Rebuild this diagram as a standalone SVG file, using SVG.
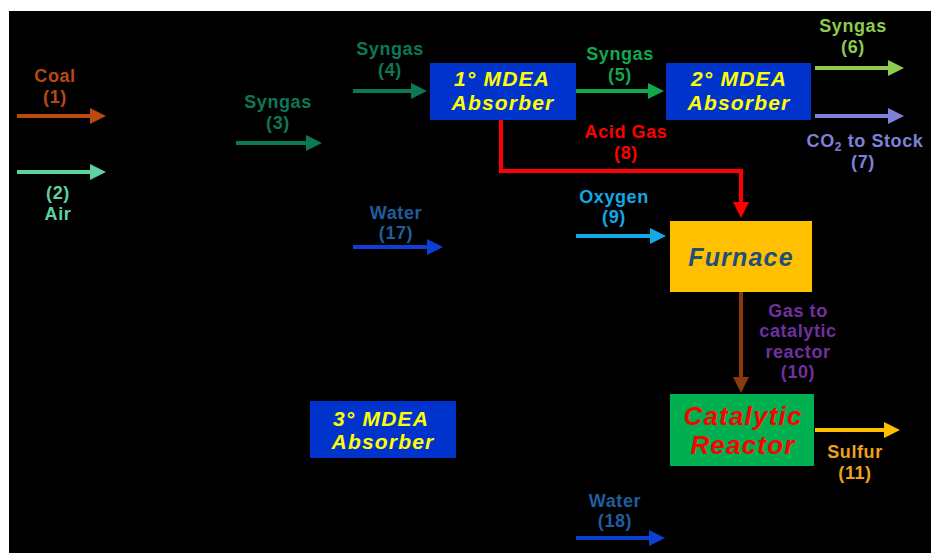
<svg xmlns="http://www.w3.org/2000/svg" width="931" height="553" viewBox="0 0 931 553">
<style>
.lbl{font-family:"Liberation Sans",Arial,sans-serif;font-weight:bold;font-size:18px;letter-spacing:0.6px;text-anchor:middle}
.box{font-family:"Liberation Sans",Arial,sans-serif;font-weight:bold;font-style:italic;letter-spacing:1.2px;text-anchor:middle}
.ln{fill:none;stroke-width:4}
</style>
<defs>
<marker id="mCoal" markerUnits="userSpaceOnUse" markerWidth="17" markerHeight="17" refX="1" refY="8" orient="auto"><path d="M0,0 L16,8 L0,16 z" fill="#BA4A12"/></marker>
<marker id="mAir" markerUnits="userSpaceOnUse" markerWidth="17" markerHeight="17" refX="1" refY="8" orient="auto"><path d="M0,0 L16,8 L0,16 z" fill="#5ED1A0"/></marker>
<marker id="mSyn" markerUnits="userSpaceOnUse" markerWidth="17" markerHeight="17" refX="1" refY="8" orient="auto"><path d="M0,0 L16,8 L0,16 z" fill="#0B7857"/></marker>
<marker id="mSyn5" markerUnits="userSpaceOnUse" markerWidth="17" markerHeight="17" refX="1" refY="8" orient="auto"><path d="M0,0 L16,8 L0,16 z" fill="#13A84E"/></marker>
<marker id="mSyn6" markerUnits="userSpaceOnUse" markerWidth="17" markerHeight="17" refX="1" refY="8" orient="auto"><path d="M0,0 L16,8 L0,16 z" fill="#8DCC4E"/></marker>
<marker id="mCO2" markerUnits="userSpaceOnUse" markerWidth="17" markerHeight="17" refX="1" refY="8" orient="auto"><path d="M0,0 L16,8 L0,16 z" fill="#8080D8"/></marker>
<marker id="mAcid" markerUnits="userSpaceOnUse" markerWidth="17" markerHeight="17" refX="1" refY="8" orient="auto"><path d="M0,0 L16,8 L0,16 z" fill="#FF0000"/></marker>
<marker id="mOxy" markerUnits="userSpaceOnUse" markerWidth="17" markerHeight="17" refX="1" refY="8" orient="auto"><path d="M0,0 L16,8 L0,16 z" fill="#13A8E8"/></marker>
<marker id="mGas" markerUnits="userSpaceOnUse" markerWidth="17" markerHeight="17" refX="1" refY="8" orient="auto"><path d="M0,0 L16,8 L0,16 z" fill="#8B3A0E"/></marker>
<marker id="mSul" markerUnits="userSpaceOnUse" markerWidth="17" markerHeight="17" refX="1" refY="8" orient="auto"><path d="M0,0 L16,8 L0,16 z" fill="#FFC000"/></marker>
<marker id="mWat" markerUnits="userSpaceOnUse" markerWidth="17" markerHeight="17" refX="1" refY="8" orient="auto"><path d="M0,0 L16,8 L0,16 z" fill="#0D3FD4"/></marker>
</defs>
<rect x="9" y="11" width="922" height="542" fill="#000"/>

<g id="connectors">
<path class="ln" d="M17,116 H91" stroke="#BA4A12" marker-end="url(#mCoal)"/>
<path class="ln" d="M17,172 H91" stroke="#5ED1A0" marker-end="url(#mAir)"/>
<path class="ln" d="M236,143 H307" stroke="#0B7857" marker-end="url(#mSyn)"/>
<path class="ln" d="M353,91 H412" stroke="#0B7857" marker-end="url(#mSyn)"/>
<path class="ln" d="M576,91 H649" stroke="#13A84E" marker-end="url(#mSyn5)"/>
<path class="ln" d="M815,68 H889" stroke="#8DCC4E" marker-end="url(#mSyn6)"/>
<path class="ln" d="M815,116 H889" stroke="#8080D8" marker-end="url(#mCO2)"/>
<path class="ln" d="M501,120 V171 H741 V203" stroke="#FF0000" stroke-width="5" marker-end="url(#mAcid)"/>
<path class="ln" d="M576,236 H651" stroke="#13A8E8" marker-end="url(#mOxy)"/>
<path class="ln" d="M741,292 V378" stroke="#8B3A0E" stroke-width="5" marker-end="url(#mGas)"/>
<path class="ln" d="M815,430 H885" stroke="#FFC000" marker-end="url(#mSul)"/>
<path class="ln" d="M353,247 H428" stroke="#0D3FD4" marker-end="url(#mWat)"/>
<path class="ln" d="M576,538 H650" stroke="#0D3FD4" marker-end="url(#mWat)"/>
</g>

<g id="labels">
<text class="lbl" x="55" y="82" fill="#BA4A12">Coal</text>
<text class="lbl" x="55" y="103" fill="#BA4A12">(1)</text>
<text class="lbl" x="58" y="199" fill="#5ED1A0">(2)</text>
<text class="lbl" x="58" y="220" fill="#5ED1A0">Air</text>
<text class="lbl" x="278" y="108" fill="#0B7857">Syngas</text>
<text class="lbl" x="278" y="129" fill="#0B7857">(3)</text>
<text class="lbl" x="390" y="55" fill="#0B7857">Syngas</text>
<text class="lbl" x="390" y="76" fill="#0B7857">(4)</text>
<text class="lbl" x="620" y="60" fill="#13A84E">Syngas</text>
<text class="lbl" x="620" y="81" fill="#13A84E">(5)</text>
<text class="lbl" x="853" y="32" fill="#8DCC4E">Syngas</text>
<text class="lbl" x="853" y="53" fill="#8DCC4E">(6)</text>
<text class="lbl" x="865" y="147" fill="#8080D8">CO<tspan font-size="12" dy="4">2</tspan><tspan dy="-4"> to Stock</tspan></text>
<text class="lbl" x="863" y="168" fill="#8080D8">(7)</text>
<text class="lbl" x="626" y="138" fill="#FF0000">Acid Gas</text>
<text class="lbl" x="626" y="159" fill="#FF0000">(8)</text>
<text class="lbl" x="614" y="203" fill="#13A8E8">Oxygen</text>
<text class="lbl" x="614" y="223" fill="#13A8E8">(9)</text>
<text class="lbl" x="396" y="219" fill="#1F5E9E">Water</text>
<text class="lbl" x="396" y="239" fill="#1F5E9E">(17)</text>
<text class="lbl" x="798" y="317" fill="#7030A0">Gas to</text>
<text class="lbl" x="798" y="337" fill="#7030A0">catalytic</text>
<text class="lbl" x="798" y="358" fill="#7030A0">reactor</text>
<text class="lbl" x="798" y="378" fill="#7030A0">(10)</text>
<text class="lbl" x="855" y="458" fill="#EFA11E">Sulfur</text>
<text class="lbl" x="855" y="479" fill="#EFA11E">(11)</text>
<text class="lbl" x="615" y="507" fill="#1F5E9E">Water</text>
<text class="lbl" x="615" y="527" fill="#1F5E9E">(18)</text>
</g>

<g id="mdea1">
<rect x="430" y="63" width="146" height="57" fill="#0033CC"/>
<text class="box" x="502" y="86" font-size="21" fill="#FFFF00">1° MDEA</text>
<text class="box" x="503" y="110" font-size="21" fill="#FFFF00">Absorber</text>
</g>
<g id="mdea2">
<rect x="666" y="63" width="145" height="57" fill="#0033CC"/>
<text class="box" x="739" y="86" font-size="21" fill="#FFFF00">2° MDEA</text>
<text class="box" x="739" y="110" font-size="21" fill="#FFFF00">Absorber</text>
</g>
<g id="mdea3">
<rect x="310" y="401" width="146" height="57" fill="#0033CC"/>
<text class="box" x="381" y="426" font-size="21" fill="#FFFF00">3° MDEA</text>
<text class="box" x="383" y="449" font-size="21" fill="#FFFF00">Absorber</text>
</g>
<g id="furnace">
<rect x="670" y="221" width="142" height="71" fill="#FFC000"/>
<text class="box" x="741" y="266" font-size="25" fill="#1F4E79">Furnace</text>
</g>
<g id="reactor">
<rect x="670" y="394" width="144" height="72" fill="#00B050"/>
<text class="box" x="743" y="425" font-size="26" fill="#FF0000">Catalytic</text>
<text class="box" x="743" y="454" font-size="26" fill="#FF0000">Reactor</text>
</g>
</svg>
